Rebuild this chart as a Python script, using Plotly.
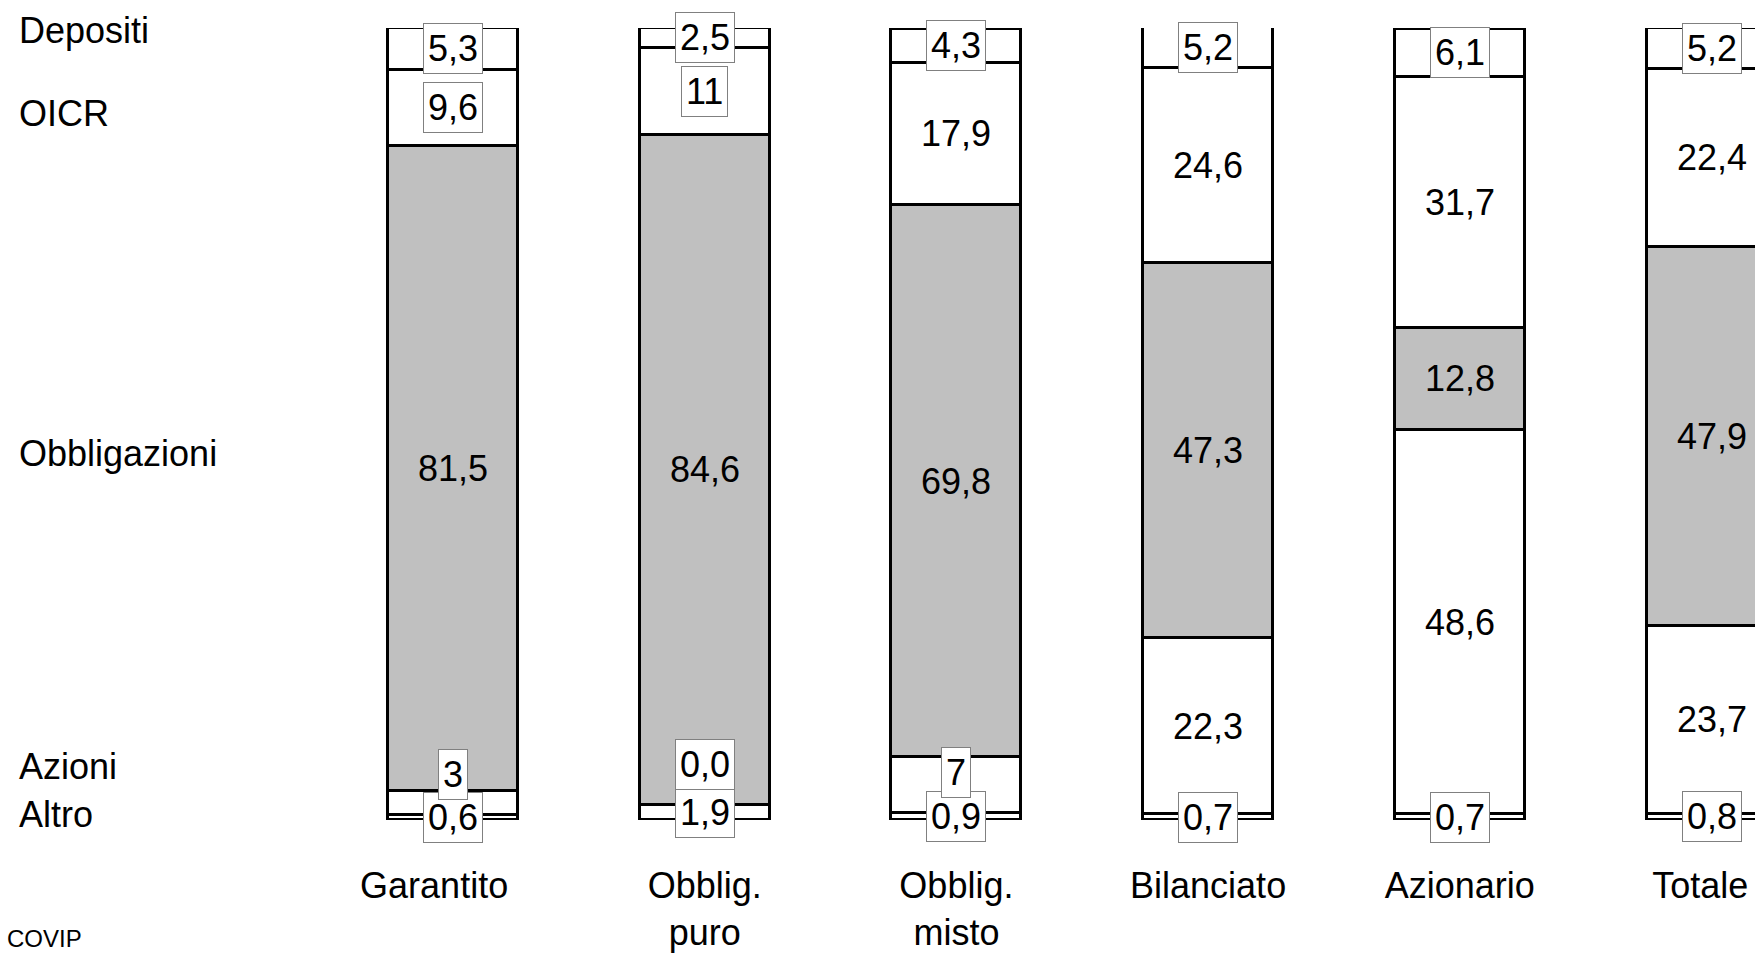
import plotly.graph_objects as go

categories = ["Garantito", "Obblig.<br>puro", "Obblig.<br>misto", "Bilanciato", "Azionario", "Totale"]
series_names = ["Altro", "Azioni", "Obbligazioni", "OICR", "Depositi"]

altro = [0.6, 1.9, 0.9, 0.7, 0.7, 0.8]
azioni = [3.0, 0.0, 7.0, 22.3, 48.6, 23.7]
obbligazioni = [81.5, 84.6, 69.8, 47.3, 12.8, 47.9]
oicr = [9.6, 11.0, 17.9, 24.6, 31.7, 22.4]
depositi = [5.3, 2.5, 4.3, 5.2, 6.1, 5.2]

altro_text = ["0,6", "1,9", "0,9", "0,7", "0,7", "0,8"]
azioni_text = ["3", "0,0", "7", "22,3", "48,6", "23,7"]
obbligazioni_text = ["81,5", "84,6", "69,8", "47,3", "12,8", "47,9"]
oicr_text = ["9,6", "11", "17,9", "24,6", "31,7", "22,4"]
depositi_text = ["5,3", "2,5", "4,3", "5,2", "6,1", "5,2"]

# left-hand series labels, vertical position in % units
series_label_y = [0.75, 6.8, 46.3, 89.2, 99.7]
# small horizontal nudges of category labels (in category units)
tick_nudge = [-0.075, 0, 0, 0, 0, -0.045]

values = [altro, azioni, obbligazioni, oicr, depositi]
texts = [altro_text, azioni_text, obbligazioni_text, oicr_text, depositi_text]
fills = ["white", "white", "#c0c0c0", "white", "white"]

FONT = "Liberation Sans, Arial, sans-serif"
FS = 36
xpos = list(range(len(categories)))
STEP = 251.7  # px per category
BAR_W = 130 / STEP

fig = go.Figure()
for name, vals, fill in zip(series_names, values, fills):
    fig.add_trace(go.Bar(
        x=xpos, y=vals, name=name, width=BAR_W,
        marker=dict(color=fill, line=dict(color="black", width=2.6)),
        hoverinfo="skip", showlegend=False,
    ))

annotations = []
base = [0.0] * len(categories)
for s, (vals, txts) in enumerate(zip(values, texts)):
    for i, (v, t) in enumerate(zip(vals, txts)):
        boxed = v < 12
        ann = dict(x=xpos[i], xref="x", yref="y", text=t, showarrow=False,
                   font=dict(family=FONT, size=FS, color="black"))
        if boxed:
            ann.update(bgcolor="white", bordercolor="#808080", borderwidth=1, borderpad=4)
        if series_names[s] == "Azioni" and boxed:
            ann.update(y=base[i], yanchor="bottom", yshift=15)
        else:
            ann.update(y=base[i] + v / 2, yanchor="middle")
        annotations.append(ann)
        base[i] += v

for name, yv in zip(series_names, series_label_y):
    annotations.append(dict(x=17 / 1755, xref="paper", y=yv, yref="y", text=name,
                            showarrow=False, xanchor="left", yanchor="middle",
                            font=dict(family=FONT, size=FS, color="black")))

annotations.append(dict(x=5 / 1755, xref="paper", y=-0.149, yref="paper", text="COVIP",
                        showarrow=False, xanchor="left", yanchor="middle",
                        font=dict(family=FONT, size=24, color="black")))

fig.update_layout(
    barmode="stack",
    width=1755, height=953,
    margin=dict(l=0, r=0, t=28, b=133, autoexpand=False),
    paper_bgcolor="white", plot_bgcolor="white",
    annotations=annotations,
    showlegend=False,
    bargap=0,
)
fig.update_xaxes(range=[-453 / STEP, (1755 - 453) / STEP],
                 tickvals=[p + d for p, d in zip(xpos, tick_nudge)], ticktext=categories,
                 showgrid=False, zeroline=False, showline=False, ticks="",
                 tickfont=dict(family=FONT, size=FS, color="black"),
                 ticklabelstandoff=41, ticklabeloverflow="allow", automargin=False)
fig.update_yaxes(range=[0, 100], showgrid=False, zeroline=False, showline=False,
                 showticklabels=False, ticks="", automargin=False)

fig.write_html("out.html", config={"displayModeBar": False},
               post_script="document.body.style.margin='0';document.body.style.overflow='hidden';")
